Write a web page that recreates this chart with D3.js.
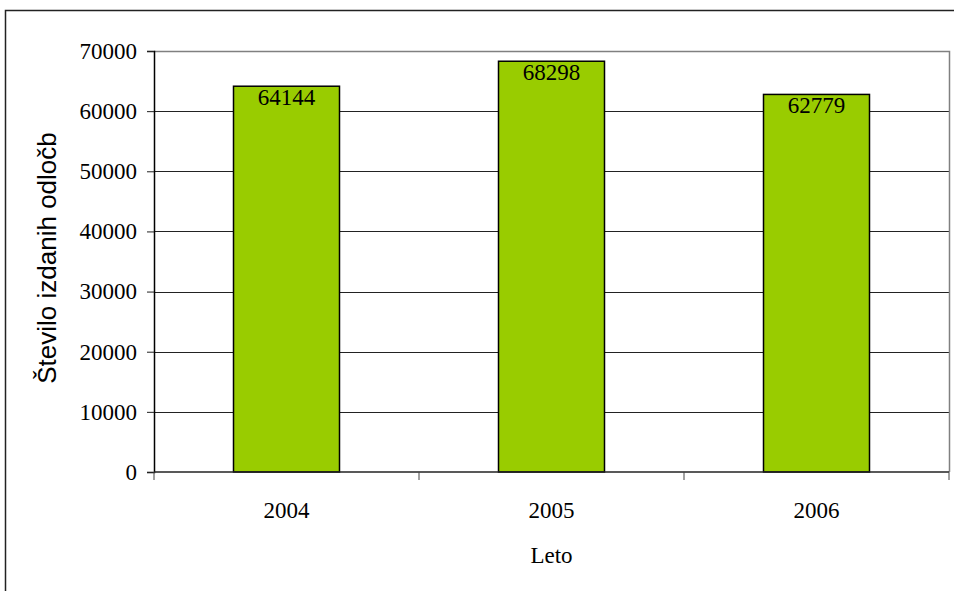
<!DOCTYPE html>
<html><head><meta charset="utf-8">
<script src="https://cdn.jsdelivr.net/npm/d3@7"></script>
<style>body{margin:0;background:#fff}svg{display:block}
.serif{font-family:"Liberation Serif","Times New Roman","DejaVu Serif",serif}
.sans{font-family:"Liberation Sans",Arial,sans-serif}</style>
</head><body>
<svg id="c" width="954" height="591"></svg>
<script>
const categories = ["2004", "2005", "2006"];
const values = [64144, 68298, 62779];
const yTicks = [0, 10000, 20000, 30000, 40000, 50000, 60000, 70000];
const xTitle = "Leto";
const yTitle = "Število izdanih odločb";

const svg = d3.select("#c");
const L = 154, R = 949, T = 51, B = 472;

svg.append("rect").attr("x", 5.5).attr("y", 10.5).attr("width", 1000).attr("height", 1000)
  .attr("fill", "none").attr("stroke", "#222").attr("stroke-width", 1.5);

const x = d3.scaleBand().domain(categories).range([L, R]).paddingInner(0.6).paddingOuter(0.3);
const xb = d3.scaleBand().domain(categories).range([L, R]);
const y = d3.scaleLinear().domain([0, 70000]).range([B, T]);

// gridlines
svg.append("g").selectAll("line").data(yTicks.filter(d => d > 0 && d < 70000)).join("line")
  .attr("x1", L).attr("x2", R).attr("y1", d => Math.round(y(d)) + 0.5).attr("y2", d => Math.round(y(d)) + 0.5)
  .attr("stroke", "#222").attr("stroke-width", 1);
// plot border top/right
svg.append("path").attr("d", `M${L},${T + 0.5}H${R + 0.5}V${B}`).attr("fill", "none")
  .attr("stroke", "#808080").attr("stroke-width", 1.5);

// bars
svg.append("g").selectAll("rect").data(values).join("rect")
  .attr("x", (d, i) => x(categories[i])).attr("width", x.bandwidth())
  .attr("y", d => y(d)).attr("height", d => B - y(d))
  .attr("fill", "#99CC00").attr("stroke", "#000").attr("stroke-width", 1.5);

// bar labels
svg.append("g").selectAll("text").data(values).join("text").attr("class", "serif")
  .attr("x", (d, i) => x(categories[i]) + x.bandwidth() / 2).attr("y", d => y(d) + 19)
  .attr("text-anchor", "middle").attr("font-size", 23)
  .attr("fill", "#000").text(d => d);

// y axis
const ya = svg.append("g").attr("transform", `translate(${L},0)`)
  .call(d3.axisLeft(y).tickValues(yTicks).tickSize(7).tickPadding(10).tickFormat(d => d));
ya.attr("font-family", null).attr("font-size", null);
ya.select(".domain").attr("stroke", "#000").attr("stroke-width", 1.5);
ya.selectAll(".tick line").attr("stroke", "#222");
ya.selectAll("text").attr("class", "serif").attr("font-size", 23).attr("fill", "#000");

// x axis
const xa = svg.append("g").attr("transform", `translate(0,${B})`);
xa.append("line").attr("x1", L).attr("x2", R).attr("stroke", "#222").attr("stroke-width", 1.5);
xa.selectAll("line.t").data(categories.concat(["end"])).join("line").attr("class", "t")
  .attr("x1", (d, i) => i < categories.length ? xb(d) : R).attr("x2", (d, i) => i < categories.length ? xb(d) : R)
  .attr("y1", 0).attr("y2", 8).attr("stroke", "#444").attr("stroke-width", 1);
xa.selectAll("text").data(categories).join("text").attr("class", "serif")
  .attr("x", d => xb(d) + xb.bandwidth() / 2).attr("y", 46)
  .attr("text-anchor", "middle").attr("font-size", 23)
  .attr("fill", "#000").text(d => d);

// titles
svg.append("text").attr("class", "serif").attr("x", (L + R) / 2).attr("y", 563).attr("text-anchor", "middle")
  .attr("font-size", 23).text(xTitle);
svg.append("text").attr("class", "sans").attr("transform", "translate(56,258) rotate(-90)").attr("text-anchor", "middle")
  .attr("font-size", 26).text(yTitle);
</script>
</body></html>
